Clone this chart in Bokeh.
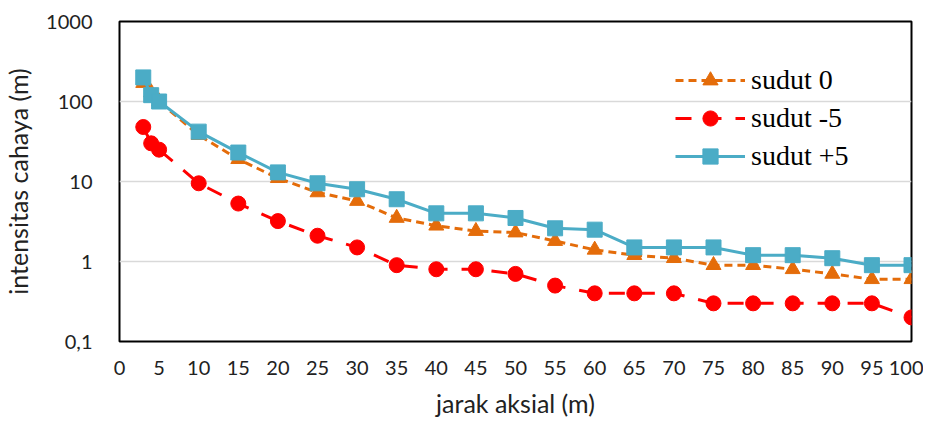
from bokeh.plotting import figure
from bokeh.models import (FixedTicker, CustomJSTickFormatter, Legend, LegendItem,
                          Range1d)
from bokeh.embed import file_html
from bokeh.resources import INLINE

# ---- data ----
jarak = [3, 4, 5, 10, 15, 20, 25, 30, 35, 40, 45, 50, 55, 60, 65, 70, 75, 80, 85, 90, 95, 100]
sudut_0 = [170, 130, 100, 38, 19, 11, 7.3, 5.7, 3.5, 2.8, 2.4, 2.3, 1.8, 1.4, 1.2, 1.1, 0.9, 0.9, 0.8, 0.7, 0.6, 0.6]
sudut_m5 = [48, 30, 25, 9.5, 5.3, 3.2, 2.1, 1.5, 0.9, 0.8, 0.8, 0.7, 0.5, 0.4, 0.4, 0.4, 0.3, 0.3, 0.3, 0.3, 0.3, 0.2]
sudut_p5 = [200, 120, 100, 42, 23, 13, 9.5, 8, 6, 4, 4, 3.5, 2.6, 2.5, 1.5, 1.5, 1.5, 1.2, 1.2, 1.1, 0.9, 0.9]
x_ticks = list(range(0, 101, 5))
y_ticks = [0.1, 1, 10, 100, 1000]

ORANGE = "#E46C0A"
RED = "#FF0000"
BLUE = "#4BACC6"
TICK_FONT = "Lato"

p = figure(width=923, height=421, y_axis_type="log", output_backend="svg",
           toolbar_location=None, x_range=Range1d(0, 100), y_range=Range1d(0.1, 1000),
           min_border_left=118, min_border_right=12, min_border_top=21, min_border_bottom=80)

p.outline_line_color = "black"
p.outline_line_width = 2
p.background_fill_color = "white"
p.border_fill_color = "white"

p.xgrid.visible = False
p.ygrid.grid_line_color = "#d9d9d9"
p.ygrid.grid_line_width = 1.5
p.ygrid.minor_grid_line_color = None

p.xaxis.ticker = FixedTicker(ticks=x_ticks)
p.yaxis.ticker = FixedTicker(ticks=y_ticks, minor_ticks=[])
p.yaxis.formatter = CustomJSTickFormatter(code="return String(tick).replace('.', ',');")

for ax in (p.xaxis[0], p.yaxis[0]):
    ax.axis_line_color = None
    ax.major_tick_line_color = None
    ax.minor_tick_line_color = None
    ax.major_label_text_font = TICK_FONT
    ax.major_label_text_font_size = "20px"
    ax.major_label_text_color = "#222222"
    ax.axis_label_text_font = TICK_FONT
    ax.axis_label_text_font_size = "25px"
    ax.axis_label_text_font_style = "normal"
    ax.axis_label_text_color = "#222222"

p.xaxis.axis_label = "jarak aksial (m)"
p.yaxis.axis_label = "intensitas cahaya (m)"
p.xaxis.major_label_standoff = 13
p.yaxis.major_label_standoff = 21
p.xaxis.axis_label_standoff = 10
p.yaxis.axis_label_standoff = 10

l0 = p.line(jarak, sudut_0, line_color=ORANGE, line_width=3, line_dash="8 5")
m0 = p.scatter(jarak, sudut_0, marker="triangle", size=15, fill_color=ORANGE, line_color=ORANGE)
l1 = p.line(jarak, sudut_m5, line_color=RED, line_width=3, line_dash="16 14")
m1 = p.scatter(jarak, sudut_m5, marker="circle", size=15, fill_color=RED, line_color=RED)
l2 = p.line(jarak, sudut_p5, line_color=BLUE, line_width=3)
m2 = p.scatter(jarak, sudut_p5, marker="square", size=15, fill_color=BLUE, line_color=BLUE)

legend = Legend(items=[
    LegendItem(label="sudut 0", renderers=[l0, m0]),
    LegendItem(label="sudut -5", renderers=[l1, m1]),
    LegendItem(label="sudut +5", renderers=[l2, m2]),
], location=(556, 166))
legend.background_fill_alpha = 0
legend.border_line_color = None
legend.label_text_font = "'Liberation Serif', 'Times New Roman', serif"
legend.label_text_font_size = "28px"
legend.label_text_color = "black"
legend.glyph_width = 70
legend.glyph_height = 38
legend.label_height = 38
legend.spacing = 0
legend.padding = 0
legend.margin = 0
legend.label_standoff = 6
p.add_layout(legend)

open("out.html", "w").write(file_html(p, INLINE))
